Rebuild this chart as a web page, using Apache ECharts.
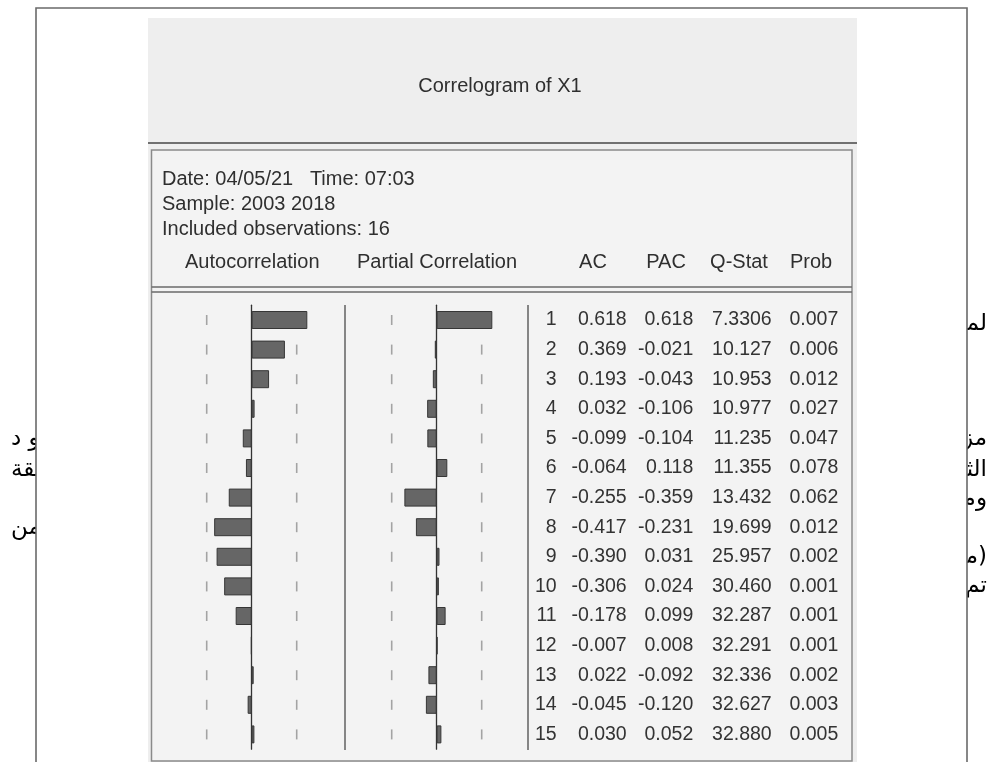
<!DOCTYPE html>
<html>
<head>
<meta charset="utf-8">
<title>Correlogram of X1</title>
<script src="https://cdn.jsdelivr.net/npm/echarts/dist/echarts.min.js"></script>
<style>
  html, body { margin: 0; padding: 0; background: #ffffff; }
  #chart { width: 994px; height: 762px; }
</style>
</head>
<body>
<div id="chart"></div>
<script>
// Correlogram values (EViews output)
const lags  = [1, 2, 3, 4, 5, 6, 7, 8, 9, 10, 11, 12, 13, 14, 15];
const ac    = [0.618, 0.369, 0.193, 0.032, -0.099, -0.064, -0.255, -0.417, -0.390, -0.306, -0.178, -0.007, 0.022, -0.045, 0.030];
const pac   = [0.618, -0.021, -0.043, -0.106, -0.104, 0.118, -0.359, -0.231, 0.031, 0.024, 0.099, 0.008, -0.092, -0.120, 0.052];
const qStat = [7.3306, 10.127, 10.953, 10.977, 11.235, 11.355, 13.432, 19.699, 25.957, 30.460, 32.287, 32.291, 32.336, 32.627, 32.880];
const prob  = [0.007, 0.006, 0.012, 0.027, 0.047, 0.078, 0.062, 0.012, 0.002, 0.001, 0.001, 0.001, 0.002, 0.003, 0.005];
const band  = 0.5;   // approximate 2-standard-error bound for 16 observations

// Header texts
const titleText  = 'Correlogram of X1';
const infoLines  = ['Date: 04/05/21   Time: 07:03', 'Sample: 2003 2018', 'Included observations: 16'];
const colHeads   = ['Autocorrelation', 'Partial Correlation', 'AC', 'PAC', 'Q-Stat', 'Prob'];

// Surrounding document text (Arabic), partly hidden behind the figure frame
const arabicRight = ['لمعرفة', 'مزيد', 'الثالث', 'ومن', '\u200F(مثلا', 'تم'];
const arabicLeft  = ['و د', 'بالثقة', 'ضمن'];

// ---- layout ----
const rowTop = 305.2, rowH = 444;
const acLeft = 161.7, pacLeft = 346.7, panelW = 180;
const colRight = [556.7, 626.7, 693.3, 771.7, 838.3];
const headX = [185, 357, 593, 666, 739, 811];
const textFont = '20px "Liberation Sans", Arial, sans-serif';
const ink = '#2f2f2f';
const arFont = '23px "DejaVu Sans", sans-serif';
const arRightY = [324, 439, 470, 499, 557, 586];
const arLeftY  = [439, 470, 528];

const dashData = [];
lags.forEach((l, i) => { dashData.push([-band, i]); dashData.push([band, i]); });

function valueAxis(idx) {
  return { type: 'value', gridIndex: idx, min: -1, max: 1, show: false };
}
function lagAxis(idx, showLine) {
  return {
    type: 'category', gridIndex: idx, inverse: true,
    data: lags.map(String),
    axisLine: { show: showLine, onZero: true, lineStyle: { color: '#333', width: 1.3 } },
    axisTick: { show: false }, axisLabel: { show: false }, splitLine: { show: false }
  };
}

const barStyle = { color: '#666666', borderColor: '#363636', borderWidth: 1 };
const dashSeries = (idx) => ({
  type: 'scatter', xAxisIndex: idx, yAxisIndex: idx, data: dashData,
  symbol: 'rect', symbolSize: [1.6, 10], silent: true, z: 1,
  itemStyle: { color: '#8e8e8e' }
});

const graphics = [];
// document text, then the white figure frame over it
arabicRight.forEach((t, i) => graphics.push({
  type: 'text', z: -20, style: { text: t, x: 987, y: arRightY[i], font: arFont, fill: '#000', textAlign: 'right', textVerticalAlign: 'middle' }
}));
arabicLeft.forEach((t, i) => graphics.push({
  type: 'text', z: -20, style: { text: t, x: 11, y: arLeftY[i], font: arFont, fill: '#000', textAlign: 'left', textVerticalAlign: 'middle' }
}));
graphics.push({ type: 'rect', z: -15, shape: { x: 36, y: 8, width: 931, height: 770 }, style: { fill: '#ffffff', stroke: '#6a6a6a', lineWidth: 1.6 } });
// EViews window
graphics.push({ type: 'rect', z: -10, shape: { x: 148, y: 18, width: 709, height: 760 }, style: { fill: '#eeeeee' } });
graphics.push({ type: 'rect', z: -9, shape: { x: 151.5, y: 150, width: 700.5, height: 611 }, style: { fill: '#f3f3f3', stroke: '#8a8a8a', lineWidth: 1.5 } });
graphics.push({ type: 'line', z: -8, shape: { x1: 148, y1: 143, x2: 857, y2: 143 }, style: { stroke: '#707070', lineWidth: 2 } });
graphics.push({ type: 'line', z: -8, shape: { x1: 151.5, y1: 287, x2: 852, y2: 287 }, style: { stroke: '#6a6a6a', lineWidth: 1.5 } });
graphics.push({ type: 'line', z: -8, shape: { x1: 151.5, y1: 292, x2: 852, y2: 292 }, style: { stroke: '#6a6a6a', lineWidth: 1.5 } });
[345, 528].forEach(x => graphics.push({ type: 'line', z: -8, shape: { x1: x, y1: 305, x2: x, y2: 750 }, style: { stroke: '#4a4a4a', lineWidth: 1.3 } }));
// titles and headers
graphics.push({ type: 'text', z: 5, style: { text: titleText, x: 500, y: 86, font: textFont, fill: ink, textAlign: 'center', textVerticalAlign: 'middle' } });
[179, 204, 229].forEach((y, i) => graphics.push({
  type: 'text', z: 5, style: { text: infoLines[i], x: 162, y: y, font: textFont, fill: ink, textAlign: 'left', textVerticalAlign: 'middle' }
}));
colHeads.forEach((t, i) => graphics.push({
  type: 'text', z: 5, style: { text: t, x: headX[i], y: 262, font: textFont, fill: ink, textAlign: i < 2 ? 'left' : 'center', textVerticalAlign: 'middle' }
}));

const tableData = lags.map((l, i) => [0, i, l, ac[i], pac[i], qStat[i], prob[i]]);

const option = {
  backgroundColor: '#ffffff',
  animation: false,
  grid: [
    { left: acLeft, width: panelW, top: rowTop, height: rowH },
    { left: pacLeft, width: panelW, top: rowTop, height: rowH },
    { left: 530, width: 320, top: rowTop, height: rowH }
  ],
  xAxis: [valueAxis(0), valueAxis(1), { type: 'value', gridIndex: 2, min: 0, max: 1, show: false }],
  yAxis: [lagAxis(0, true), lagAxis(1, true), lagAxis(2, false)],
  graphic: { elements: graphics },
  series: [
    dashSeries(0),
    dashSeries(1),
    { type: 'bar', xAxisIndex: 0, yAxisIndex: 0, data: ac, barWidth: 18, itemStyle: barStyle, z: 3 },
    { type: 'bar', xAxisIndex: 1, yAxisIndex: 1, data: pac, barWidth: 18, itemStyle: barStyle, z: 3 },
    {
      type: 'custom', xAxisIndex: 2, yAxisIndex: 2, data: tableData,
      encode: { x: 0, y: 1 }, z: 5,
      renderItem: function (params, api) {
        const y = api.coord([0, api.value(1)])[1];
        const cells = [
          String(api.value(2)),
          api.value(3).toFixed(3),
          api.value(4).toFixed(3),
          api.value(5).toPrecision(5),
          api.value(6).toFixed(3)
        ];
        return {
          type: 'group',
          children: cells.map((t, c) => ({
            type: 'text',
            style: { text: t, x: colRight[c], y: y, font: '19.5px "Liberation Sans", Arial, sans-serif', fill: '#333333', textAlign: 'right', textVerticalAlign: 'middle' }
          }))
        };
      }
    }
  ]
};

const chart = echarts.init(document.getElementById('chart'), null, { renderer: 'canvas' });
chart.setOption(option);
</script>
</body>
</html>
